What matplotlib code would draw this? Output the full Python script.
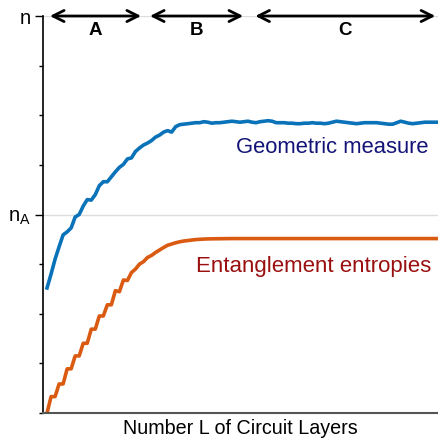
import numpy as np
import matplotlib
matplotlib.use("Agg")
import matplotlib.pyplot as plt

plt.rcParams['font.family'] = ['Liberation Sans', 'DejaVu Sans']

# geometric measure, layers 0..97
geometric = [2.52, 2.80, 3.10, 3.35, 3.59, 3.65, 3.73, 3.95, 4.00, 4.17,
             4.30, 4.29, 4.40, 4.58, 4.66, 4.66, 4.76, 4.86, 4.95, 5.01,
             5.12, 5.14, 5.27, 5.34, 5.40, 5.44, 5.49, 5.56, 5.60, 5.66,
             5.69, 5.66, 5.77, 5.81, 5.82, 5.83, 5.84, 5.85, 5.85, 5.87,
             5.86, 5.84, 5.85, 5.85, 5.86, 5.87, 5.88, 5.87, 5.86, 5.87,
             5.88, 5.86, 5.85, 5.87, 5.88, 5.89, 5.88, 5.85, 5.85, 5.85,
             5.84, 5.84, 5.83, 5.83, 5.84, 5.84, 5.85, 5.84, 5.84, 5.83,
             5.84, 5.86, 5.88, 5.87, 5.86, 5.85, 5.84, 5.83, 5.84, 5.85,
             5.85, 5.85, 5.85, 5.84, 5.83, 5.82, 5.82, 5.85, 5.88, 5.86,
             5.84, 5.83, 5.84, 5.85, 5.86, 5.86, 5.86, 5.86]

# entanglement entropies, layers 0..97
entropy = [0.00, 0.33, 0.33, 0.585, 0.585, 0.89, 0.89, 1.15, 1.15, 1.405,
           1.405, 1.69, 1.69, 1.955, 1.955, 2.18, 2.18, 2.465, 2.445, 2.68,
           2.67, 2.83, 2.90, 3.00, 3.05, 3.135, 3.175, 3.235, 3.285, 3.335,
           3.38, 3.405, 3.43, 3.45, 3.465, 3.475, 3.485, 3.495, 3.50, 3.505,
           3.508, 3.51, 3.511, 3.512, 3.513, 3.514] + [3.515] * 52

layers = np.arange(len(geometric))

regions = [(0.7, 23.4, 'A'), (25.6, 48.8, 'B'), (51.8, 96.6, 'C')]

blue = '#0a72b8'
orange = '#d95a10'

fig = plt.figure(figsize=(4.39, 4.41), dpi=100)
ax = fig.add_axes([0.098, 0.0635, 0.9, 0.9002])

ax.plot(layers, geometric, color=blue, lw=2.6, solid_joinstyle='round')
ax.plot(layers, entropy, color=orange, lw=2.6, solid_joinstyle='round')

ax.set_xlim(-1, 97.3)
ax.set_ylim(0, 8)

ax.set_yticks([4, 8])
ax.set_yticklabels([r'n$_\mathregular{A}$', 'n'], fontsize=14.5)
ax.set_yticks(range(0, 9), minor=True)
ax.tick_params(axis='y', which='major', length=6, width=1, pad=3)
ax.tick_params(axis='y', which='minor', length=3, width=1)
ax.set_xticks([])
ax.grid(axis='y', which='major', color='#dddddd', lw=1)
ax.set_axisbelow(True)

for s in ['top', 'right']:
    ax.spines[s].set_visible(False)
ax.spines['bottom'].set_color('#555555')
ax.spines['bottom'].set_linewidth(1.5)
ax.spines['left'].set_linewidth(1.2)

for x0, x1, lab in regions:
    ax.annotate('', xy=(x0, 8), xytext=(x1, 8),
                arrowprops=dict(arrowstyle='<->', lw=2, color='black',
                                mutation_scale=20, shrinkA=0, shrinkB=0),
                annotation_clip=False)
    ax.text((x0 + x1) / 2, 7.7, lab, ha='center', va='center',
            fontsize=13.5, fontweight='bold')

ax.text(95, 5.36, 'Geometric measure', color='#141478', fontsize=15.8,
        ha='right', va='center')
ax.text(95.5, 2.96, 'Entanglement entropies', color='#9a0f0f', fontsize=16,
        ha='right', va='center')

ax.set_xlabel('Number L of Circuit Layers', fontsize=14.2, labelpad=4)

fig.savefig('out.png', dpi=100)
